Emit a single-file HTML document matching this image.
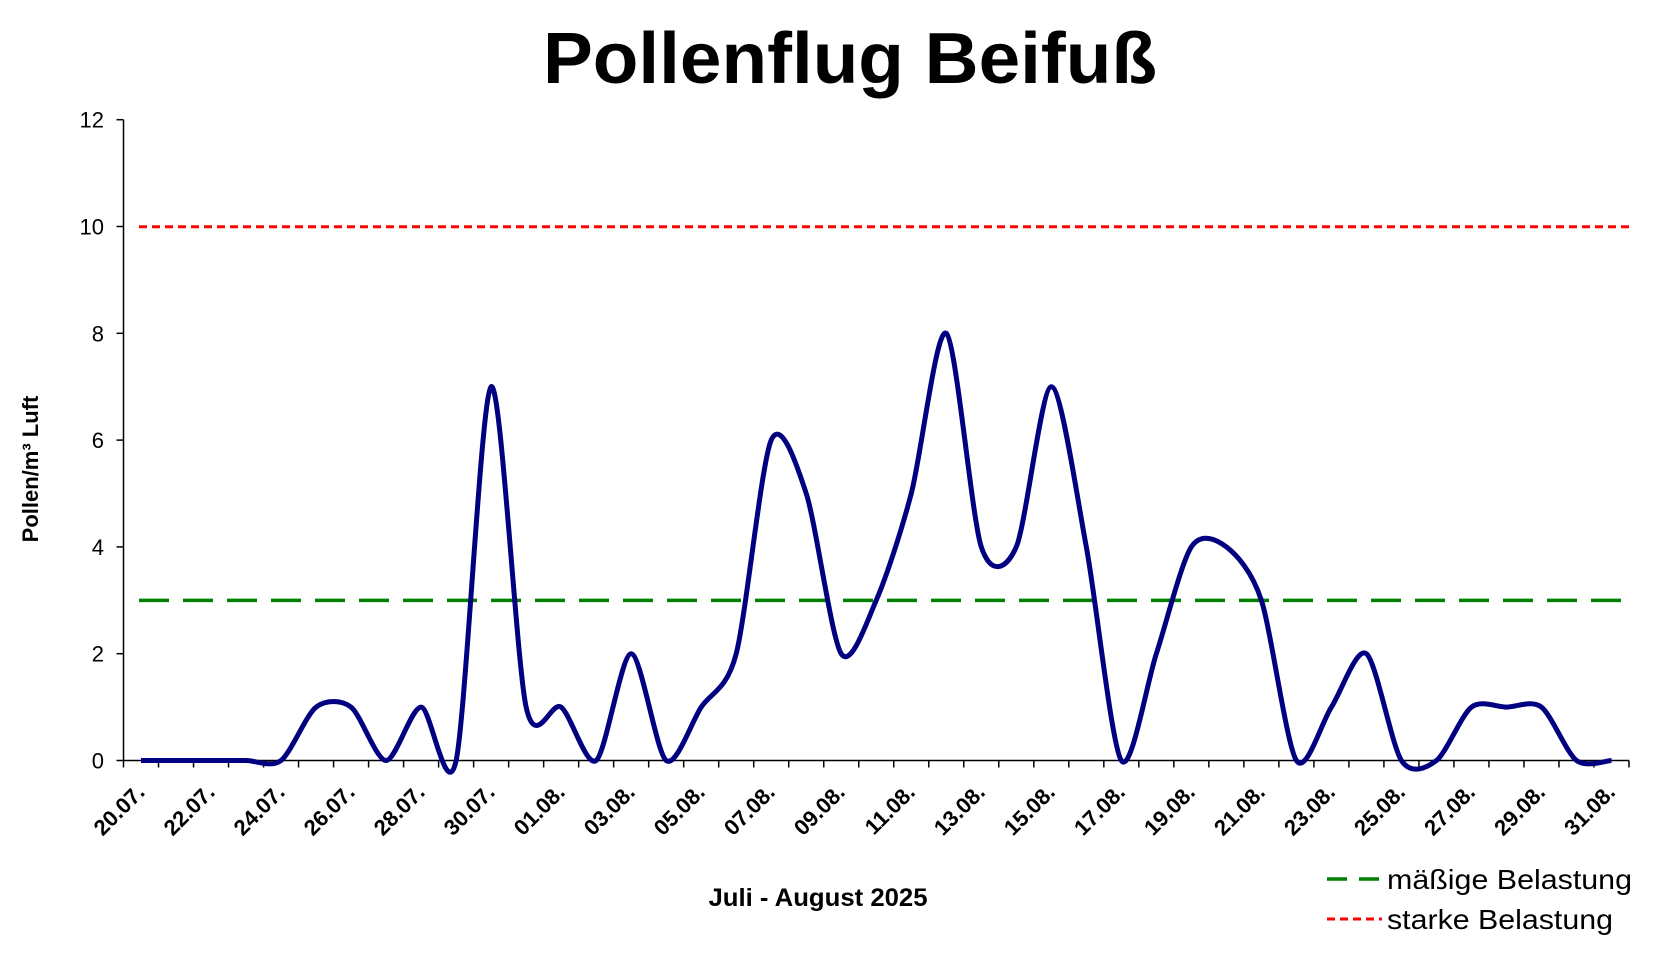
<!DOCTYPE html>
<html><head><meta charset="utf-8"><style>html,body{margin:0;padding:0;background:#fff}</style></head>
<body>
<svg xmlns="http://www.w3.org/2000/svg" width="1661" height="955" viewBox="0 0 1661 955" font-family="Liberation Sans, Arial, sans-serif">
<rect width="1661" height="955" fill="#fff"/>
<text x="850" y="83" text-anchor="middle" font-size="72" font-weight="bold" textLength="614" lengthAdjust="spacingAndGlyphs">Pollenflug Beifuß</text>
<g id="axes" stroke="#000" stroke-width="1.5" fill="none"></g>
<g id="ylab" font-size="22" text-anchor="end"></g>
<g id="xlab" font-size="22" font-weight="bold" text-anchor="end"></g>
<line x1="139" y1="226.7" x2="1629" y2="226.7" stroke="#ff0000" stroke-width="3" stroke-dasharray="8,5"/>
<line x1="139" y1="600.4" x2="1629" y2="600.4" stroke="#008000" stroke-width="3.5" stroke-dasharray="30,14"/>
<path id="series" fill="none" stroke="#000080" stroke-width="5" stroke-linejoin="round"/>
<text transform="translate(38,469) rotate(-90)" text-anchor="middle" font-size="22" font-weight="bold">Pollen/m³ Luft</text>
<text x="818" y="906" text-anchor="middle" font-size="25" font-weight="bold" textLength="219" lengthAdjust="spacingAndGlyphs">Juli - August 2025</text>
<line x1="1327" y1="879" x2="1382" y2="879" stroke="#008000" stroke-width="3.5" stroke-dasharray="20,12"/>
<text x="1387" y="889" font-size="28" textLength="245" lengthAdjust="spacingAndGlyphs">mäßige Belastung</text>
<line x1="1327" y1="919" x2="1382" y2="919" stroke="#ff0000" stroke-width="3" stroke-dasharray="8,5"/>
<text x="1387" y="929" font-size="28" textLength="226" lengthAdjust="spacingAndGlyphs">starke Belastung</text>
</svg>
<script>
const NS="http://www.w3.org/2000/svg";
const x0=123.5,x1=1629,y0=760.5,yt=119.7,n=43,w=(x1-x0)/n;
const Y=v=>y0-(y0-yt)*v/12;
const ax=document.getElementById('axes');
function ln(a,b,c,d){const l=document.createElementNS(NS,'line');l.setAttribute('x1',a);l.setAttribute('y1',b);l.setAttribute('x2',c);l.setAttribute('y2',d);ax.appendChild(l);}
ln(x0,yt,x0,y0);ln(x0,y0,x1,y0);
const yl=document.getElementById('ylab');
for(let v=0;v<=12;v+=2){ln(x0-7,Y(v),x0,Y(v));const t=document.createElementNS(NS,'text');t.setAttribute('x',104);t.setAttribute('y',Y(v)+8);t.textContent=v;yl.appendChild(t);}
for(let i=0;i<=n;i++)ln(x0+i*w,y0,x0+i*w,y0+7);
const xl=document.getElementById('xlab');
for(let i=0;i<n;i+=2){const d=i<12?(20+i):(i-11);const m=i<12?'07':'08';const lab=String(d).padStart(2,'0')+'.'+m+'.';
const cx=x0+(i+0.5)*w+5,cy=y0+33;const t=document.createElementNS(NS,'text');t.setAttribute('transform',`translate(${cx},${cy}) rotate(-45)`);t.textContent=lab;xl.appendChild(t);}
const data=[0,0,0,0,0,1,1,0,1,0,7,1,1,0,2,0,1,2,6,5,2,3,5,8,4,4,7,4,0,2,4,4,3,0,1,2,0,0,1,1,1,0,0];
const P=data.map((v,i)=>[x0+(i+0.5)*w,Y(v)]);
const k=0.14;
let d=`M${P[0][0]},${P[0][1]}`;
for(let i=0;i<P.length-1;i++){const p0=P[Math.max(0,i-1)],p1=P[i],p2=P[i+1],p3=P[Math.min(P.length-1,i+2)];
const c1=[p1[0]+(p2[0]-p0[0])*k,p1[1]+(p2[1]-p0[1])*k],c2=[p2[0]-(p3[0]-p1[0])*k,p2[1]-(p3[1]-p1[1])*k];
d+=` C${c1[0]},${c1[1]} ${c2[0]},${c2[1]} ${p2[0]},${p2[1]}`;}
document.getElementById('series').setAttribute('d',d);
</script>
</body></html>
